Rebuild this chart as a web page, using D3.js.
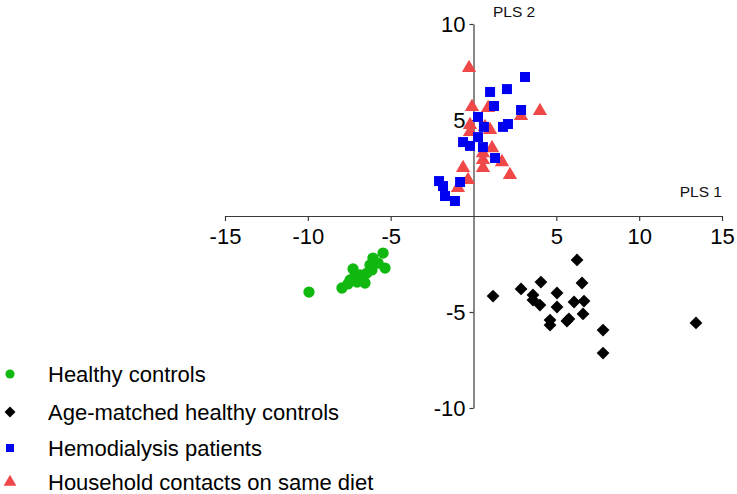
<!DOCTYPE html>
<html><head><meta charset="utf-8">
<script src="https://cdn.jsdelivr.net/npm/d3@7"></script>
<style>body{margin:0;background:#fff}svg{display:block}text{font-family:"Liberation Sans",Arial,sans-serif}</style>
</head><body><svg id="c" width="737" height="494"></svg>
<script>
const healthyControls = [[-9.93,-3.96],[-7.94,-3.75],[-7.27,-2.76],[-5.46,-1.93],[-6.07,-2.19],[-5.34,-2.71],[-6.13,-2.81],[-7.45,-3.33],[-7.03,-3.44],[-6.67,-3.23],[-6.43,-2.97],[-5.76,-2.45],[-6.85,-3.07],[-7.58,-3.54],[-6.25,-2.55],[-7.15,-3.13],[-6.55,-3.49]];
const ageMatched = [[6.25,-2.29],[4.07,-3.44],[6.55,-3.49],[1.18,-4.17],[2.87,-3.80],[3.59,-4.11],[3.59,-4.38],[4.01,-4.64],[5.04,-4.01],[5.04,-4.74],[6.07,-4.48],[6.67,-4.43],[6.61,-5.10],[5.76,-5.36],[5.64,-5.47],[4.62,-5.42],[4.62,-5.68],[7.82,-5.94],[7.82,-7.14],[13.43,-5.57]];
const hemodialysis = [[3.11,7.24],[1.0,6.46],[2.02,6.61],[1.24,5.73],[2.87,5.52],[0.27,5.16],[0.63,4.64],[1.78,4.64],[2.08,4.79],[-0.63,3.85],[-0.21,3.65],[0.27,4.11],[0.57,3.59],[1.30,3.02],[-2.08,1.82],[-1.84,1.56],[-0.81,1.77],[-1.72,1.04],[-1.12,0.78]];
const household = [[-0.27,7.71],[-0.09,5.68],[0.88,5.63],[4.01,5.47],[2.87,5.21],[-0.21,4.74],[-0.21,4.38],[1.0,4.48],[1.12,3.54],[0.57,3.28],[0.57,2.92],[0.57,2.50],[1.72,2.81],[2.20,2.14],[-0.63,2.50],[-0.33,1.88],[-0.94,1.46],[0.69,4.64]];
const xTicks = [-15,-10,-5,5,10,15];
const yTicks = [-10,-5,5,10];
const legendLabels = ["Healthy controls","Age-matched healthy controls","Hemodialysis patients","Household contacts on same diet"];

const svg = d3.select("#c");
const x = d3.scaleLinear().domain([-15,15]).range([225,722]);
const y = d3.scaleLinear().domain([-10,10]).range([408,24]);

const axisColor = "#3a3a3a";
const gx = svg.append("g").attr("transform",`translate(0,${y(0)})`)
  .call(d3.axisBottom(x).tickValues(xTicks).tickSize(5).tickSizeOuter(0).tickPadding(6).tickFormat(d3.format("d")));
const gy = svg.append("g").attr("transform",`translate(${x(0)},0)`)
  .call(d3.axisLeft(y).tickValues(yTicks).tickSize(4).tickSizeOuter(0).tickPadding(4).tickFormat(d3.format("d")));
[gx,gy].forEach(g=>{
  g.select(".domain").attr("stroke",axisColor).attr("stroke-width",1.2);
  g.selectAll(".tick line").attr("stroke",axisColor).attr("stroke-width",1.2);
  g.selectAll(".tick text").attr("fill","#000").style("font-size","22px").text(d=>d<0?"-"+Math.abs(d):d);
});
gx.selectAll(".tick text").attr("dy","0.75em");
gy.selectAll(".tick text").attr("dy","0.34em");

svg.append("text").attr("x",493).attr("y",17).style("font-size","15.5px").attr("fill","#111").text("PLS 2");
svg.append("text").attr("x",722).attr("y",197).attr("text-anchor","end").style("font-size","15.5px").attr("fill","#111").text("PLS 1");

const sets = [
  {data:healthyControls, color:"#10b810", sym:d3.symbolCircle, size:100, rot:0},
  {data:ageMatched, color:"#000000", sym:d3.symbolSquare, size:82, rot:45},
  {data:household, color:"#f04848", sym:d3.symbolTriangle, size:88, rot:0},
  {data:hemodialysis, color:"#0000f0", sym:d3.symbolSquare, size:100, rot:0}
];
sets.forEach(s=>{
  svg.append("g").selectAll("path").data(s.data).join("path")
    .attr("d", d3.symbol().type(s.sym).size(s.size))
    .attr("transform", d=>`translate(${x(d[0])},${y(d[1])}) rotate(${s.rot})`)
    .attr("fill", s.color);
});

const legendItems = [
  {label:legendLabels[0], color:"#10b810", sym:d3.symbolCircle, size:65, rot:0},
  {label:legendLabels[1], color:"#000000", sym:d3.symbolSquare, size:60, rot:45},
  {label:legendLabels[2], color:"#0000f0", sym:d3.symbolSquare, size:64, rot:0},
  {label:legendLabels[3], color:"#f04848", sym:d3.symbolTriangle, size:70, rot:0}
];
const ly = [374, 412, 448, 482];
const lg = svg.append("g");
legendItems.forEach((it,i)=>{
  lg.append("path").attr("d", d3.symbol().type(it.sym).size(it.size)())
    .attr("transform",`translate(10,${ly[i]}) rotate(${it.rot})`).attr("fill",it.color);
  lg.append("text").attr("x",48).attr("y",ly[i]).attr("dy","0.35em").style("font-size","22px").attr("fill","#000").text(it.label);
});
</script></body></html>
